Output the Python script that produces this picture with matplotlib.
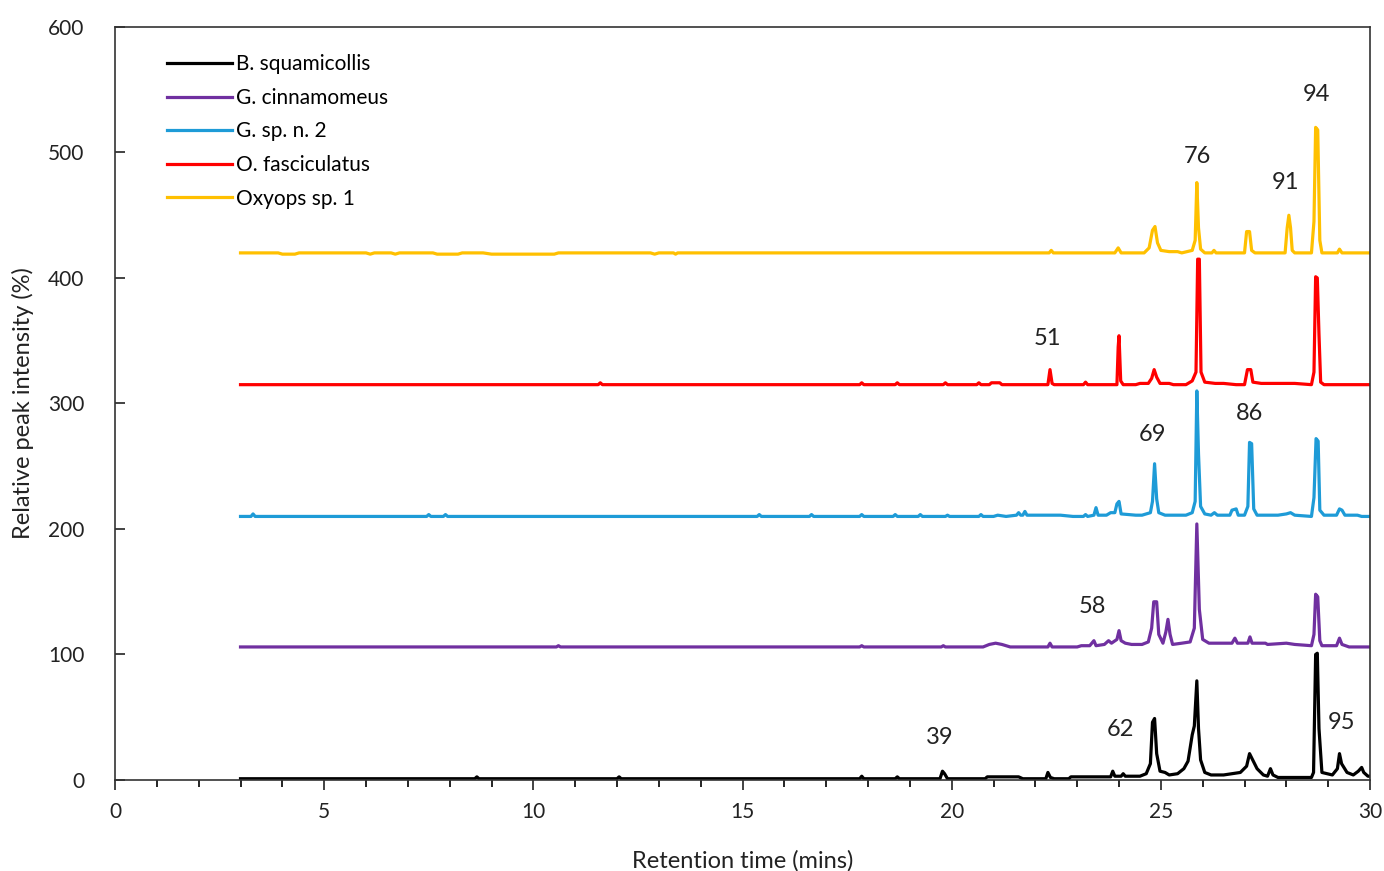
import matplotlib.pyplot as plt

plt.rcParams['font.family'] = ['Lato', 'DejaVu Sans']

species = ['B. squamicollis', 'G. cinnamomeus', 'G. sp. n. 2', 'O. fasciculatus', 'Oxyops sp. 1']
colors = ['#000000', '#7030A0', '#1E9BD7', '#FF0000', '#FFC000']
offsets = [1, 106, 210, 315, 420]

# retention time (mins) and relative intensity above each trace's baseline
bsq_rt = [3.0, 8.6, 8.65, 8.7, 12.0, 12.05, 12.1, 17.8, 17.85, 17.9, 18.65, 18.7, 18.75,
          19.72, 19.78, 19.83, 19.9, 20.8, 20.85, 21.6, 21.7, 22.25, 22.3, 22.36, 22.45,
          22.8, 22.85, 23.8, 23.85, 23.9, 24.05, 24.1, 24.15, 24.5, 24.65, 24.75, 24.8,
          24.85, 24.9, 24.98, 25.1, 25.2, 25.4, 25.55, 25.65, 25.75, 25.8, 25.86, 25.9,
          25.95, 26.05, 26.2, 26.5, 26.9, 27.05, 27.12, 27.18, 27.3, 27.45, 27.55, 27.62,
          27.68, 27.8, 28.6, 28.65, 28.7, 28.74, 28.78, 28.85, 29.1, 29.22, 29.27, 29.32,
          29.45, 29.6, 29.72, 29.8, 29.85, 29.95, 30.0]
bsq_int = [0, 0, 1.5, 0, 0, 1.5, 0, 0, 2, 0, 0, 1.5, 0,
           0, 6, 4, 0, 0, 1.5, 1.5, 0, 0, 5, 1, 0,
           0, 1.5, 1.5, 6, 2, 2, 4, 2, 2, 4, 12, 45,
           48, 20, 6, 5, 3, 4, 8, 14, 35, 42, 78, 40,
           15, 5, 3, 3, 5, 10, 20, 16, 8, 3, 2, 8,
           3, 1, 1, 5, 99, 100, 40, 5, 3, 8, 20, 12,
           5, 3, 6, 9, 5, 2, 2]

gci_rt = [3.0, 10.55, 10.6, 10.65, 17.8, 17.85, 17.9, 19.75, 19.8, 19.85, 20.75, 20.9,
          21.05, 21.2, 21.4, 22.3, 22.35, 22.4, 23.0, 23.1, 23.3, 23.4, 23.45, 23.65,
          23.75, 23.82, 23.95, 24.0, 24.05, 24.15, 24.3, 24.55, 24.7, 24.78, 24.83, 24.9,
          24.95, 25.05, 25.12, 25.17, 25.22, 25.28, 25.5, 25.7, 25.8, 25.86, 25.92, 26.0,
          26.15, 26.7, 26.77, 26.83, 27.08, 27.13, 27.18, 27.5, 27.55, 28.0, 28.2, 28.6,
          28.66, 28.7, 28.75, 28.8, 28.85, 29.2, 29.27, 29.33, 29.5, 30.0]
gci_int = [0, 0, 1, 0, 0, 1, 0, 0, 1, 0, 0, 2,
           3, 2, 0, 0, 3, 0, 0, 1, 1, 5, 1, 2,
           5, 3, 6, 13, 5, 3, 2, 2, 4, 15, 36, 36,
           10, 3, 12, 22, 10, 2, 3, 4, 15, 98, 30, 6,
           3, 3, 7, 3, 3, 8, 3, 3, 2, 3, 2, 1,
           10, 42, 40, 5, 1, 1, 7, 2, 0, 0]

gsp_rt = [3.0, 3.25, 3.3, 3.35, 7.45, 7.5, 7.55, 7.85, 7.9, 7.95, 15.35, 15.4, 15.45,
          16.6, 16.65, 16.7, 17.8, 17.85, 17.9, 18.6, 18.65, 18.7, 19.2, 19.25, 19.3,
          19.85, 19.9, 19.95, 20.65, 20.7, 20.75, 21.0, 21.1, 21.3, 21.55, 21.6, 21.65,
          21.7, 21.75, 21.8, 22.3, 22.6, 22.9, 23.15, 23.2, 23.25, 23.4, 23.45, 23.5,
          23.7, 23.8, 23.9, 23.95, 24.0, 24.05, 24.4, 24.55, 24.75, 24.8, 24.85, 24.9,
          24.95, 25.1, 25.6, 25.75, 25.82, 25.86, 25.9, 25.95, 26.05, 26.2, 26.28, 26.35,
          26.65, 26.7, 26.8, 26.85, 27.0, 27.08, 27.12, 27.17, 27.22, 27.3, 27.8, 28.0,
          28.1, 28.2, 28.6, 28.66, 28.71, 28.76, 28.8, 28.9, 29.1, 29.2, 29.27, 29.33,
          29.4, 29.7, 29.8, 30.0]
gsp_int = [0, 0, 2, 0, 0, 1.5, 0, 0, 1.5, 0, 0, 1.5, 0,
           0, 1.5, 0, 0, 1.5, 0, 0, 1.5, 0, 0, 1.5, 0,
           0, 1, 0, 0, 1.5, 0, 0, 1, 0, 1, 3, 1,
           1, 4, 1, 1, 1, 0, 0, 1.5, 0, 1, 7, 1,
           1, 3, 3, 10, 12, 2, 1, 1, 3, 12, 42, 14,
           3, 1, 1, 3, 12, 100, 50, 8, 2, 1, 3, 1,
           1, 5, 6, 1, 1, 8, 59, 58, 6, 1, 1, 2,
           3, 1, 0, 15, 62, 60, 5, 1, 1, 1, 6, 5,
           1, 1, 0, 0]

ofa_rt = [3.0, 11.55, 11.6, 11.65, 17.8, 17.85, 17.9, 18.65, 18.7, 18.75, 19.8, 19.85,
          19.9, 20.6, 20.65, 20.7, 20.9, 20.95, 21.15, 21.2, 22.3, 22.35, 22.4, 22.45,
          23.15, 23.2, 23.25, 23.95, 23.98, 24.0, 24.04, 24.1, 24.4, 24.5, 24.7, 24.78,
          24.84, 24.9, 24.98, 25.2, 25.3, 25.6, 25.75, 25.84, 25.88, 25.92, 25.96, 26.05,
          26.3, 26.5, 26.8, 27.0, 27.07, 27.15, 27.2, 27.4, 27.8, 28.2, 28.6, 28.66,
          28.7, 28.74, 28.78, 28.82, 28.9, 29.5, 30.0]
ofa_int = [0, 0, 1.5, 0, 0, 1.5, 0, 0, 1.5, 0, 0, 1.5,
           0, 0, 1.5, 0, 0, 1.5, 1.5, 0, 0, 12, 1, 0,
           0, 2, 0, 0, 30, 39, 3, 0, 0, 1, 1, 5,
           12, 6, 1, 1, 0, 0, 3, 10, 100, 100, 10, 2,
           1, 1, 0, 0, 12, 12, 2, 1, 1, 1, 0, 10,
           86, 85, 40, 2, 0, 0, 0]

oxy_rt = [3.0, 3.9, 4.0, 4.3, 4.4, 6.0, 6.1, 6.2, 6.6, 6.7, 6.8, 7.6, 7.7, 8.2, 8.3,
          8.8, 9.0, 10.5, 10.6, 12.8, 12.9, 13.0, 13.35, 13.4, 13.45, 22.33, 22.38, 22.43,
          23.9, 23.98, 24.05, 24.6, 24.72, 24.8, 24.86, 24.92, 25.0, 25.2, 25.4, 25.5,
          25.75, 25.82, 25.86, 25.9, 25.95, 26.05, 26.22, 26.27, 26.32, 27.0, 27.05, 27.12,
          27.17, 27.25, 27.97, 28.02, 28.06, 28.1, 28.14, 28.2, 28.6, 28.66, 28.7, 28.75,
          28.8, 28.85, 29.22, 29.27, 29.33, 30.0]
oxy_int = [0, 0, -1, -1, 0, 0, -1, 0, 0, -1, 0, 0, -1, -1, 0,
           0, -1, -1, 0, 0, -1, 0, 0, -1, 0, 0, 2, 0,
           0, 4, 0, 0, 4, 18, 21, 8, 2, 1, 1, 0,
           2, 10, 56, 20, 3, 0, 0, 2, 0, 0, 17, 17,
           2, 0, 0, 20, 30, 20, 2, 0, 0, 25, 100, 98,
           10, 0, 0, 3, 0, 0]

rt_data = [bsq_rt, gci_rt, gsp_rt, ofa_rt, oxy_rt]
int_data = [bsq_int, gci_int, gsp_int, ofa_int, oxy_int]

# peak number labels
peak_labels = ['94', '76', '91', '51', '69', '86', '58', '39', '62', '95']
label_x = [28.73, 25.87, 27.97, 22.28, 24.79, 27.13, 23.36, 19.72, 24.03, 29.33]
label_y = [546, 497, 476, 352, 275, 292, 138, 34, 40, 46]

fig = plt.figure(figsize=(13.84, 8.71), dpi=100)
ax = fig.add_axes([0.0831, 0.1045, 0.9068, 0.8645])

for rt, inten, off, c, name in zip(rt_data, int_data, offsets, colors, species):
    ax.plot(rt, [v + off for v in inten], color=c, lw=2.3, label=name,
            solid_joinstyle='round')

for t, x, y in zip(peak_labels, label_x, label_y):
    ax.text(x, y, t, fontsize=17, ha='center', va='center', color='#222222')

ax.set_xlim(0, 30)
ax.set_ylim(0, 600)
ax.set_xticks(range(0, 31, 5))
ax.set_xticks(range(0, 31), minor=True)
ax.set_yticks(range(0, 601, 100))
ax.tick_params(axis='x', direction='out', length=7, width=1.2, labelsize=15, pad=9,
               colors='#222222')
ax.tick_params(axis='x', which='minor', direction='out', length=5, width=1.2)
ax.tick_params(axis='y', direction='in', length=7, width=1.2, labelsize=15, pad=22,
               colors='#222222')
for s in ax.spines.values():
    s.set_linewidth(1.2)
    s.set_color('#333333')

ax.set_xlabel('Retention time (mins)', fontsize=17, color='#222222', labelpad=20)
ax.set_ylabel('Relative peak intensity (%)', fontsize=17, color='#222222', labelpad=10)

ax.legend(loc='upper left', bbox_to_anchor=(0.03, 0.983), frameon=False, fontsize=15,
          handlelength=3.1, handletextpad=0.2, labelspacing=0.65, borderaxespad=0.3)

fig.savefig('out.png', dpi=100)
